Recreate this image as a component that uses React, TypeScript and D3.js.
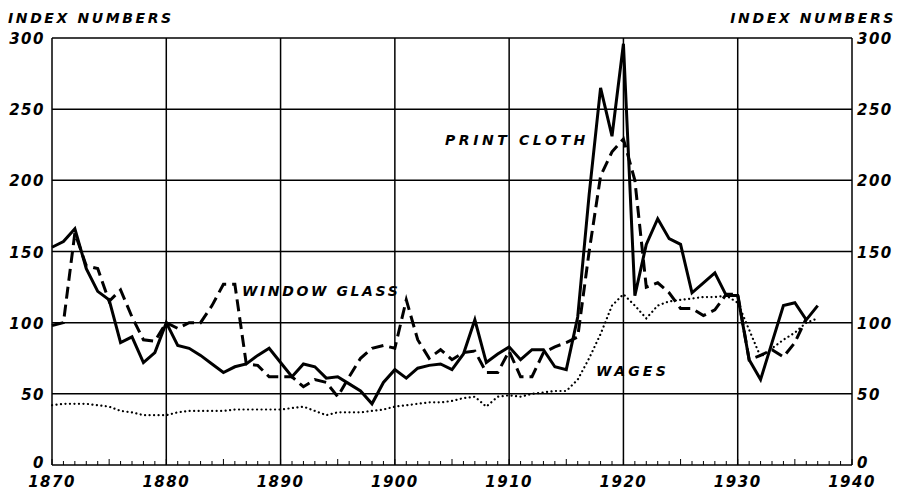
// Print cloth, window glass and wages index numbers, 1870-1937
import React from 'react';
import * as d3 from 'd3';

const years = d3.range(1870, 1938);

// print cloth, 1870-1937
const printCloth = [
  153, 157, 166, 138, 122, 116, 86, 90, 72, 79,
  100, 84, 82, 77, 71, 65, 69, 71, 77, 82,
  72, 62, 71, 69, 61, 62, 57, 52, 43, 58,
  67, 61, 68, 70, 71, 67, 78, 102, 72, 78,
  83, 74, 81, 81, 69, 67, 104, 190, 265, 231,
  296, 119, 155, 173, 159, 155, 121, 128, 135, 119,
  119, 74, 60, 86, 112, 114, 102, 112,
];

// window glass, 1870-1936
const windowGlass = [
  98, 100, 163, 140, 138, 115, 123, 104, 88, 87,
  100, 96, 100, 100, 112, 127, 127, 71, 70, 62,
  62, 62, 55, 60, 58, 48, 62, 75, 82, 84,
  82, 116, 88, 75, 81, 74, 79, 80, 65, 65,
  80, 62, 62, 79, 83, 86, 90, 150, 203, 220,
  229, 200, 125, 128, 121, 110, 110, 105, 109, 120,
  120, 74, 77, 81, 76, 86, 103,
];

// wages, 1870-1937
const wages = [
  42, 43, 43, 43, 42, 41, 38, 37, 35, 35,
  35, 37, 38, 38, 38, 38, 39, 39, 39, 39,
  39, 40, 41, 38, 35, 37, 37, 37, 38, 39,
  41, 42, 43, 44, 44, 45, 47, 48, 41, 48,
  49, 48, 50, 51, 52, 52, 60, 75, 92, 112,
  120, 112, 103, 112, 115, 116, 117, 118, 118, 119,
  114, 95, 76, 82, 88, 93, 100, 103,
];

const yTicks = [0, 50, 100, 150, 200, 250, 300];
const xTicks = [1870, 1880, 1890, 1900, 1910, 1920, 1930, 1940];

const W = 904;
const H = 494;
const FONT = '"DejaVu Sans", "Liberation Sans", sans-serif';

const App: React.FC = () => {
  const x = d3.scaleLinear().domain([1870, 1940]).range([52, 852]);
  const y = d3.scaleLinear().domain([0, 300]).range([465, 38]);

  const line = (vals: number[]) =>
    d3.line<number>()
      .x((_, i) => x(years[i]))
      .y((d) => y(d))(vals) || '';

  const labelStyle: React.CSSProperties = {
    fontFamily: FONT,
    fontStyle: 'italic',
    fontWeight: 'bold',
    fontSize: 14,
    letterSpacing: 2.6,
    fill: '#000',
  };
  const tickStyle: React.CSSProperties = {
    fontFamily: FONT,
    fontStyle: 'italic',
    fontWeight: 'bold',
    fontSize: 15,
    letterSpacing: 1.5,
    fill: '#000',
  };

  return (
    <svg width={W} height={H} style={{ position: 'absolute', left: 0, top: 0, background: '#fff' }}>
      {/* сетка */}
      {yTicks.map((t) => (
        <line key={'h' + t} x1={x(1870)} x2={x(1940)} y1={y(t)} y2={y(t)} stroke="#000" strokeWidth={1.5} />
      ))}
      {xTicks.map((t) => (
        <line key={'v' + t} x1={x(t)} x2={x(t)} y1={y(0)} y2={y(300)} stroke="#000" strokeWidth={1.5} />
      ))}
      {/* мелкие деления по годам */}
      {d3.range(1870, 1941).map((t) => (
        <line key={'m' + t} x1={x(t)} x2={x(t)} y1={y(0)} y2={y(0) - (t % 5 === 0 ? 6 : 4)} stroke="#000" strokeWidth={1} />
      ))}

      {/* линии */}
      <path d={line(wages)} fill="none" stroke="#000" strokeWidth={2.2} strokeDasharray="0.1 4.4" strokeLinecap="round" />
      <path d={line(windowGlass)} fill="none" stroke="#000" strokeWidth={3} strokeDasharray="12 6" />
      <path d={line(printCloth)} fill="none" stroke="#000" strokeWidth={3} strokeLinejoin="miter" />

      {/* подписи осей */}
      {yTicks.map((t) => (
        <g key={'yl' + t}>
          <text x={x(1870) - 7} y={y(t) + (t === 0 ? 3 : 6)} textAnchor="end" style={tickStyle}>{t}</text>
          <text x={x(1940) + 5} y={y(t) + (t === 0 ? 3 : 6)} textAnchor="start" style={tickStyle}>{t}</text>
        </g>
      ))}
      {xTicks.map((t) => (
        <text key={'xl' + t} x={x(t)} y={487} textAnchor="middle" style={tickStyle}>{t}</text>
      ))}

      <text x={8} y={23} style={labelStyle}>INDEX NUMBERS</text>
      <text x={896} y={23} textAnchor="end" style={labelStyle}>INDEX NUMBERS</text>

      <text x={445} y={145} style={{ ...labelStyle, letterSpacing: 3.6 }}>PRINT CLOTH</text>
      <text x={242} y={296} style={labelStyle}>WINDOW GLASS</text>
      <text x={596} y={376} style={{ ...labelStyle, letterSpacing: 3.2 }}>WAGES</text>
    </svg>
  );
};

export default App;
